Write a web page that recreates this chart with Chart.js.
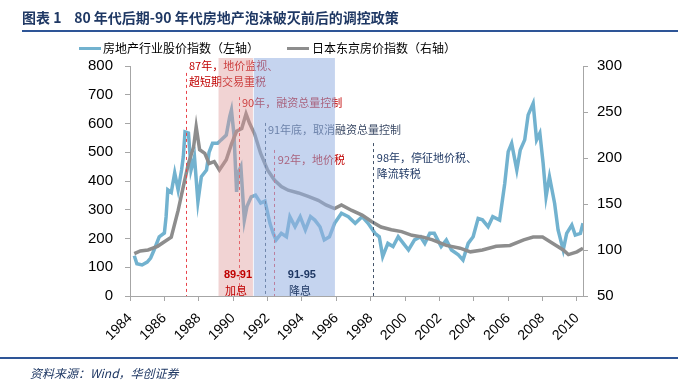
<!DOCTYPE html>
<html>
<head>
<meta charset="utf-8">
<script src="https://cdn.jsdelivr.net/npm/chart.js@4.4.0/dist/chart.umd.min.js"></script>
<style>
  html, body { margin: 0; padding: 0; background: #fff; }
  #wrap { width: 687px; height: 390px; position: relative; }
</style>
</head>
<body>
<div id="wrap"><canvas id="myChart"></canvas></div>
<script>
// data
const stockLabel = "房地产行业股价指数（左轴）";
const priceLabel = "日本东京房价指数（右轴）";

const stockYears = [1984.25, 1984.4, 1984.7, 1985.0, 1985.2, 1985.4, 1985.7, 1986.0, 1986.1, 1986.2,
  1986.4, 1986.6, 1986.8, 1987.0, 1987.1, 1987.2, 1987.4, 1987.5, 1987.55, 1987.75,
  1987.95, 1988.15, 1988.45, 1988.6, 1988.8, 1989.1, 1989.3, 1989.6, 1989.8, 1989.9,
  1990.05, 1990.2, 1990.3, 1990.45, 1990.65, 1990.8, 1991.05, 1991.3, 1991.6, 1991.85,
  1992.14, 1992.33, 1992.5, 1992.8, 1993.1, 1993.3, 1993.6, 1993.9, 1994.2, 1994.5,
  1994.75, 1995.05, 1995.3, 1995.6, 1995.9, 1996.3, 1996.7, 1997.1, 1997.5, 1997.85,
  1998.25, 1998.5, 1998.7, 1999.0, 1999.3, 1999.6, 1999.9, 2000.2, 2000.55, 2000.9,
  2001.15, 2001.44, 2001.7, 2002.1, 2002.4, 2002.7, 2003.1, 2003.37, 2003.67, 2003.96,
  2004.25, 2004.5, 2004.83, 2005.1, 2005.5, 2005.8, 2006.0, 2006.2, 2006.5, 2006.7,
  2006.96, 2007.16, 2007.45, 2007.65, 2007.84, 2008.03, 2008.2, 2008.4, 2008.7, 2008.9,
  2009.2, 2009.4, 2009.7, 2009.9, 2010.2, 2010.35];
const stockValues = [140, 112, 108, 118, 132, 160, 206, 219, 276, 369,
  360, 428, 369, 438, 484, 571, 567, 484, 438, 484,
  328, 415, 438, 500, 531, 531, 543, 560, 624, 647,
  560, 362, 430, 450, 264, 311, 345, 351, 323, 330,
  253, 218, 195, 218, 206, 276, 241, 276, 230, 276,
  264, 241, 195, 206, 253, 288, 276, 253, 276, 253,
  218, 206, 137, 183, 172, 206, 183, 160, 195, 206,
  183, 218, 218, 172, 195, 160, 143, 125, 183, 206,
  270, 265, 241, 276, 264, 392, 502, 531, 438, 508,
  543, 630, 670, 543, 566, 462, 345, 415, 322, 230,
  160, 218, 247, 212, 218, 253];

const priceYears = [1984.25, 1984.6, 1985.05, 1985.6, 1986.0, 1986.4, 1986.8, 1987.1, 1987.4, 1987.7,
  1987.85, 1988.05, 1988.35, 1988.6, 1988.9, 1989.2, 1989.6, 1989.9, 1990.2, 1990.5,
  1990.75, 1990.95, 1991.25, 1991.6, 1992.0, 1992.4, 1992.8, 1993.2, 1993.8, 1994.4,
  1994.95, 1995.4, 1995.9, 1996.3, 1996.9, 1997.5, 1998.05, 1998.6, 1999.2, 1999.8,
  2000.4, 2001.05, 2001.6, 2002.4, 2003.2, 2003.8, 2004.5, 2005.3, 2006.1, 2006.9,
  2007.45, 2008.0, 2008.6, 2009.2, 2009.5, 2010.0, 2010.35];
const priceValues = [96, 99, 100, 104, 109, 114, 143, 169, 194, 212,
  234, 209, 205, 194, 196, 187, 198, 215, 229, 232,
  248, 238, 226, 205, 187, 176, 169, 165, 162, 158,
  154, 149, 145, 149, 143, 138, 131, 125, 122, 120,
  116, 114, 111, 105, 102, 98, 100, 104, 105, 111,
  114, 114, 107, 100, 95, 98, 102];

const xTickStep = 2;
const leftTicks = [0, 800, 100];   // min, max, step
const rightTicks = [50, 300, 50];

// policy periods and dates
const bands = [
  { from: 1989.15, to: 1991.15, color: "rgba(222,150,150,0.42)", label: "89-91", sub: "加息", textColor: "#C00000", at: 1990.28 },
  { from: 1991.2, to: 1995.92, color: "rgba(150,176,226,0.55)", label: "91-95", sub: "降息", textColor: "#1F3864", at: 1994.0 }
];
const policyLines = [
  { year: 1987.23, top: 776, color: "#E8434A" },
  { year: 1990.35, top: 692, color: "#E8434A" },
  { year: 1991.85, top: 602, color: "#44546A" },
  { year: 1992.4, top: 508, color: "#E8434A" },
  { year: 1998.13, top: 532, color: "#44546A" }
];
const policyNotes = [
  { year: 1987.43, value: 800, lines: ["87年，地价监视、", "超短期交易重税"], color: "#C00000" },
  { year: 1990.51, value: 671, lines: ["90年，融资总量控制"], color: "#C00000" },
  { year: 1992.02, value: 577, lines: ["91年底，取消融资总量控制"], color: "#3B4A66" },
  { year: 1992.6, value: 473, lines: ["92年，地价税"], color: "#C00000" },
  { year: 1998.36, value: 480, lines: ["98年，停征地价税、", "降流转税"], color: "#1F3864" }
];

const cjk = '"Noto Sans CJK SC", "Noto Sans", sans-serif';
const latin = '"Liberation Sans", Arial, sans-serif';

const decor = {
  id: "decor",
  afterDatasetsDraw(chart) {
    const c = chart.ctx, x = chart.scales.x, y = chart.scales.y, area = chart.chartArea;
    c.save();
    // dashed policy lines
    c.lineWidth = 1;
    c.setLineDash([3, 3]);
    policyLines.forEach(p => {
      const px = Math.round(x.getPixelForValue(p.year)) + 0.5;
      c.strokeStyle = p.color;
      c.beginPath();
      c.moveTo(px, y.getPixelForValue(p.top));
      c.lineTo(px, area.bottom);
      c.stroke();
    });
    c.setLineDash([]);
    // notes
    c.font = "11px " + cjk;
    c.textBaseline = "middle";
    c.textAlign = "left";
    policyNotes.forEach(n => {
      c.fillStyle = n.color;
      const px = x.getPixelForValue(n.year), py = y.getPixelForValue(n.value);
      n.lines.forEach((t, i) => c.fillText(t, px, py + i * 16));
    });
    // shaded periods
    bands.forEach(b => {
      const l = x.getPixelForValue(b.from), r = x.getPixelForValue(b.to);
      c.fillStyle = b.color;
      c.fillRect(l, area.top - 8, r - l, area.bottom - area.top + 8);
    });
    // period labels
    c.textAlign = "center";
    bands.forEach(b => {
      const px = x.getPixelForValue(b.at);
      c.fillStyle = b.textColor;
      c.font = "bold 11px " + latin;
      c.fillText(b.label, px, y.getPixelForValue(73));
      c.font = "11px " + cjk;
      c.fillText(b.sub, px - 2, y.getPixelForValue(17));
    });
    c.restore();
  },
  afterDraw(chart) {
    const c = chart.ctx;
    c.save();
    // title
    c.fillStyle = "#1F3864";
    c.font = "bold 14px " + cjk;
    c.textBaseline = "middle";
    c.fillText("图表 1    80 年代后期-90 年代房地产泡沫破灭前后的调控政策", 22, 18);
    c.fillStyle = "#2E5597";
    c.fillRect(22, 30, 656, 2);
    c.fillRect(0, 357, 678, 2);
    // legend
    c.font = "12px " + cjk;
    c.fillStyle = chart.data.datasets[1].borderColor;
    c.fillRect(79, 47, 22, 3);
    c.fillStyle = "#000";
    c.fillText(stockLabel, 103, 48);
    c.fillStyle = chart.data.datasets[0].borderColor;
    c.fillRect(287, 47, 22, 3);
    c.fillStyle = "#000";
    c.fillText(priceLabel, 312, 48);
    // source
    c.fillStyle = "#1F3864";
    c.font = "italic 12px " + cjk;
    c.fillText("资料来源：Wind，华创证券", 30, 373);
    c.restore();
  }
};

const ctx = document.getElementById("myChart");
new Chart(ctx, {
  type: "line",
  data: {
    datasets: [
      {
        label: priceLabel,
        data: priceYears.map((yr, i) => ({ x: yr, y: priceValues[i] })),
        yAxisID: "y1",
        borderColor: "#8D8D8D",
        borderWidth: 3.5,
        pointRadius: 0,
        order: 0
      },
      {
        label: stockLabel,
        data: stockYears.map((yr, i) => ({ x: yr, y: stockValues[i] })),
        yAxisID: "y",
        borderColor: "#72B2CF",
        borderWidth: 3.5,
        pointRadius: 0,
        order: 1
      }
    ]
  },
  options: {
    responsive: true,
    maintainAspectRatio: false,
    animation: false,
    layout: { padding: { top: 66 } },
    plugins: { legend: { display: false }, tooltip: { enabled: false } },
    scales: {
      x: {
        type: "linear",
        min: 1984,
        max: 2010.35,
        grid: { drawOnChartArea: false, tickLength: 5, color: "#A6A6A6" },
        border: { color: "#A6A6A6" },
        ticks: {
          stepSize: xTickStep,
          includeBounds: false,
          autoSkip: false,
          minRotation: 45,
          maxRotation: 45,
          color: "#000",
          padding: 9,
          font: { size: 14, family: latin },
          callback: v => String(v)
        },
        afterFit: s => { s.height = 94; }
      },
      y: {
        position: "left",
        min: leftTicks[0],
        max: leftTicks[1],
        grid: { drawOnChartArea: false, tickLength: 5, color: "#A6A6A6" },
        border: { color: "#A6A6A6" },
        ticks: { stepSize: leftTicks[2], color: "#000", padding: 12, font: { size: 15, family: latin } },
        afterFit: s => { s.width = 130; }
      },
      y1: {
        position: "right",
        min: rightTicks[0],
        max: rightTicks[1],
        grid: { drawOnChartArea: false, tickLength: 5, color: "#A6A6A6" },
        border: { color: "#A6A6A6" },
        ticks: { stepSize: rightTicks[2], color: "#000", padding: 9, font: { size: 15, family: latin } },
        afterFit: s => { s.width = 104; }
      }
    }
  },
  plugins: [decor]
});
</script>
</body>
</html>
